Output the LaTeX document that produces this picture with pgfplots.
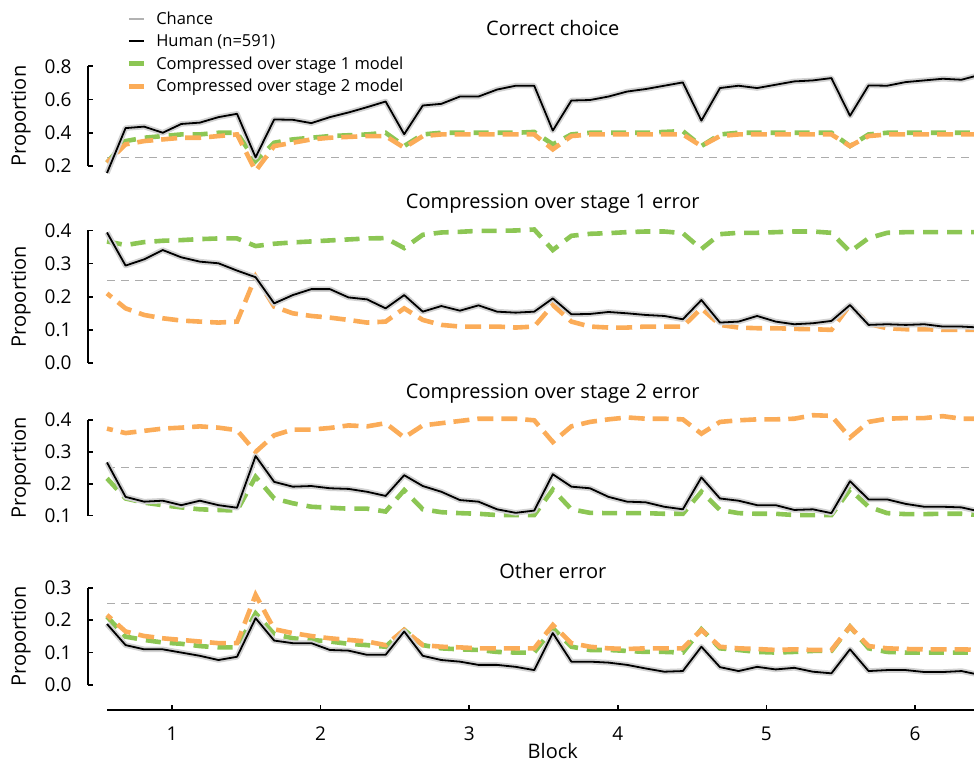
\documentclass[border=0pt]{standalone}
\usepackage{fontspec}
\setmainfont{Open Sans}
\usepackage{pgfplots}
\usepackage{pgfplotstable}
\pgfplotsset{compat=1.18}

\definecolor{grn}{RGB}{140,198,84}
\definecolor{org}{RGB}{251,172,88}

% columns: x, human, compressed-over-stage-1 model, compressed-over-stage-2 model
\pgfplotstableread{
x h s1 s2
0.5625 0.158 0.22 0.22
0.6875 0.428 0.35 0.33
0.8125 0.437 0.37 0.35
0.9375 0.400 0.38 0.36
1.0625 0.453 0.39 0.37
1.1875 0.461 0.39 0.37
1.3125 0.494 0.40 0.38
1.4375 0.514 0.40 0.39
1.5625 0.252 0.23 0.17
1.6875 0.480 0.34 0.32
1.8125 0.478 0.36 0.34
1.9375 0.458 0.37 0.36
2.0625 0.494 0.38 0.37
2.1875 0.522 0.385 0.375
2.3125 0.554 0.39 0.38
2.4375 0.588 0.40 0.38
2.5625 0.391 0.32 0.31
2.6875 0.564 0.39 0.38
2.8125 0.574 0.40 0.39
2.9375 0.618 0.40 0.39
3.0625 0.618 0.40 0.39
3.1875 0.660 0.40 0.39
3.3125 0.683 0.40 0.39
3.4375 0.683 0.405 0.39
3.5625 0.413 0.33 0.30
3.6875 0.594 0.39 0.38
3.8125 0.597 0.40 0.39
3.9375 0.618 0.40 0.39
4.0625 0.648 0.40 0.39
4.1875 0.663 0.40 0.39
4.3125 0.683 0.405 0.39
4.4375 0.703 0.41 0.39
4.5625 0.473 0.32 0.32
4.6875 0.669 0.39 0.38
4.8125 0.683 0.40 0.39
4.9375 0.669 0.40 0.39
5.0625 0.689 0.40 0.39
5.1875 0.709 0.40 0.39
5.3125 0.715 0.40 0.39
5.4375 0.729 0.40 0.39
5.5625 0.502 0.32 0.32
5.6875 0.685 0.39 0.38
5.8125 0.683 0.40 0.39
5.9375 0.705 0.40 0.39
6.0625 0.715 0.40 0.39
6.1875 0.725 0.40 0.39
6.3125 0.719 0.40 0.39
6.4375 0.749 0.40 0.39
}\correct

\pgfplotstableread{
x h s1 s2
0.5625 0.394 0.367 0.210
0.6875 0.294 0.356 0.165
0.8125 0.313 0.365 0.145
0.9375 0.341 0.369 0.135
1.0625 0.319 0.371 0.128
1.1875 0.306 0.374 0.125
1.3125 0.301 0.376 0.122
1.4375 0.279 0.376 0.125
1.5625 0.259 0.353 0.261
1.6875 0.180 0.360 0.170
1.8125 0.205 0.364 0.150
1.9375 0.223 0.367 0.142
2.0625 0.223 0.370 0.137
2.1875 0.198 0.373 0.130
2.3125 0.192 0.376 0.122
2.4375 0.165 0.377 0.125
2.5625 0.205 0.347 0.165
2.6875 0.155 0.387 0.130
2.8125 0.172 0.394 0.115
2.9375 0.158 0.396 0.110
3.0625 0.174 0.399 0.110
3.1875 0.155 0.399 0.110
3.3125 0.152 0.400 0.107
3.4375 0.155 0.403 0.110
3.5625 0.195 0.341 0.175
3.6875 0.147 0.384 0.125
3.8125 0.148 0.390 0.110
3.9375 0.154 0.392 0.107
4.0625 0.150 0.395 0.107
4.1875 0.145 0.397 0.110
4.3125 0.142 0.397 0.110
4.4375 0.132 0.392 0.110
4.5625 0.190 0.344 0.165
4.6875 0.122 0.389 0.115
4.8125 0.125 0.393 0.107
4.9375 0.142 0.393 0.105
5.0625 0.125 0.395 0.105
5.1875 0.117 0.397 0.103
5.3125 0.120 0.397 0.102
5.4375 0.127 0.393 0.100
5.5625 0.175 0.336 0.175
5.6875 0.115 0.377 0.118
5.8125 0.117 0.393 0.105
5.9375 0.115 0.395 0.102
6.0625 0.117 0.395 0.102
6.1875 0.110 0.395 0.100
6.3125 0.110 0.395 0.100
6.4375 0.107 0.395 0.100
}\stageone

\pgfplotstableread{
x h s1 s2
0.5625 0.267 0.217 0.373
0.6875 0.159 0.154 0.359
0.8125 0.144 0.141 0.366
0.9375 0.147 0.133 0.373
1.0625 0.133 0.126 0.376
1.1875 0.147 0.120 0.380
1.3125 0.133 0.118 0.376
1.4375 0.125 0.116 0.368
1.5625 0.287 0.222 0.300
1.6875 0.206 0.154 0.352
1.8125 0.191 0.139 0.370
1.9375 0.193 0.128 0.370
2.0625 0.186 0.125 0.375
2.1875 0.184 0.122 0.383
2.3125 0.175 0.122 0.380
2.4375 0.162 0.113 0.390
2.5625 0.227 0.180 0.345
2.6875 0.193 0.120 0.383
2.8125 0.175 0.111 0.390
2.9375 0.149 0.108 0.397
3.0625 0.144 0.106 0.404
3.1875 0.120 0.102 0.404
3.3125 0.109 0.102 0.404
3.4375 0.116 0.102 0.399
3.5625 0.230 0.182 0.331
3.6875 0.191 0.120 0.380
3.8125 0.186 0.109 0.394
3.9375 0.159 0.108 0.402
4.0625 0.144 0.108 0.408
4.1875 0.142 0.108 0.404
4.3125 0.128 0.106 0.404
4.4375 0.120 0.106 0.402
4.5625 0.220 0.175 0.357
4.6875 0.154 0.118 0.394
4.8125 0.147 0.108 0.399
4.9375 0.133 0.106 0.402
5.0625 0.133 0.106 0.402
5.1875 0.118 0.102 0.404
5.3125 0.120 0.102 0.415
5.4375 0.108 0.102 0.413
5.5625 0.208 0.182 0.345
5.6875 0.151 0.128 0.394
5.8125 0.151 0.108 0.404
5.9375 0.137 0.105 0.406
6.0625 0.128 0.105 0.406
6.1875 0.128 0.106 0.412
6.3125 0.126 0.106 0.404
6.4375 0.113 0.102 0.404
}\stagetwo

\pgfplotstableread{
x h s1 s2
0.5625 0.188 0.211 0.216
0.6875 0.123 0.149 0.165
0.8125 0.110 0.139 0.151
0.9375 0.110 0.131 0.144
1.0625 0.100 0.127 0.139
1.1875 0.090 0.120 0.134
1.3125 0.077 0.116 0.129
1.4375 0.087 0.116 0.129
1.5625 0.206 0.221 0.278
1.6875 0.137 0.157 0.172
1.8125 0.129 0.144 0.160
1.9375 0.129 0.139 0.151
2.0625 0.108 0.134 0.144
2.1875 0.106 0.127 0.139
2.3125 0.093 0.123 0.134
2.4375 0.093 0.118 0.123
2.5625 0.165 0.170 0.170
2.6875 0.090 0.123 0.123
2.8125 0.077 0.113 0.118
2.9375 0.072 0.110 0.116
3.0625 0.062 0.108 0.113
3.1875 0.062 0.102 0.113
3.3125 0.056 0.100 0.113
3.4375 0.046 0.100 0.113
3.5625 0.160 0.175 0.185
3.6875 0.072 0.118 0.129
3.8125 0.072 0.108 0.118
3.9375 0.069 0.108 0.113
4.0625 0.062 0.105 0.111
4.1875 0.051 0.102 0.113
4.3125 0.041 0.102 0.113
4.4375 0.043 0.100 0.113
4.5625 0.118 0.172 0.170
4.6875 0.055 0.113 0.118
4.8125 0.043 0.108 0.113
4.9375 0.056 0.102 0.111
5.0625 0.048 0.100 0.108
5.1875 0.053 0.102 0.110
5.3125 0.041 0.105 0.108
5.4375 0.036 0.105 0.108
5.5625 0.110 0.180 0.180
5.6875 0.043 0.113 0.120
5.8125 0.046 0.102 0.113
5.9375 0.046 0.100 0.111
6.0625 0.040 0.100 0.110
6.1875 0.040 0.100 0.110
6.3125 0.043 0.100 0.110
6.4375 0.031 0.100 0.108
}\other

\pgfplotsset{
  panel/.style={
    scale only axis, width=891.6pt,
    xmin=0.5625, xmax=6.5625,
    clip=false,
    axis y line*=left,
    axis y line shift=19pt,
    axis line style={line width=1.6pt, black},
    tick style={line width=1.6pt, black},
    major tick length=5pt,
    tick align=inside,
    yticklabel={\pgfmathprintnumber[fixed,fixed zerofill,precision=1,assume math mode=true]{\tick}},
    yticklabel style={font=\fontsize{19}{22}\selectfont, xshift=-13pt},
    ylabel={Proportion},
    ylabel style={font=\fontsize{20}{24}\selectfont, at={(axis description cs:-0.0965,0.5)}, anchor=center},
    title style={font=\fontsize{20}{24}\selectfont, at={(0.5,1)}, anchor=base},
  },
  noxaxis/.style={axis x line=none, xtick=\empty},
  chance/.style={gray!65, line width=0.9pt, dash pattern=on 8pt off 6pt, forget plot},
  mod1/.style={grn, line width=4.6pt, dash pattern=on 15pt off 9pt, forget plot},
  mod2/.style={org, line width=4.6pt, dash pattern=on 16pt off 8pt, dash phase=10pt, forget plot},
  shade/.style={gray!35, line width=5.5pt, line join=round, forget plot},
  human/.style={black, line width=1.8pt, line join=round, forget plot},
}

\begin{document}
\begin{tikzpicture}
\useasboundingbox (0,0) rectangle (974pt,763pt);
\clip (0,0) rectangle (974pt,763pt);

% Correct choice
\begin{axis}[panel, noxaxis, at={(107pt,597pt)}, anchor=south west, height=99.7pt,
  ymin=0.2, ymax=0.8, ytick={0.2,0.4,0.6,0.8},
  title={Correct choice}, title style={yshift=25pt},
  legend style={at={(0.018,1.585)}, anchor=north west, draw=none, fill=none,
    font=\fontsize{16.5}{20}\selectfont, row sep=4.5pt, nodes={inner sep=2pt},
    /tikz/every odd column/.append style={column sep=8pt}},
  legend cell align=left,
  legend image code/.code={\draw[#1] (0pt,0pt) -- (15pt,0pt);},
]
\addlegendimage{gray!60, line width=2pt}
\addlegendentry{Chance}
\addlegendimage{black, line width=2pt}
\addlegendentry{Human (n=591)}
\addlegendimage{grn, line width=5pt}
\addlegendentry{Compressed over stage 1 model}
\addlegendimage{org, line width=5pt}
\addlegendentry{Compressed over stage 2 model}
\addplot[chance] coordinates {(0.5625,0.25) (6.5625,0.25)};
\addplot[mod1] table[x=x,y=s1]{\correct};
\addplot[mod2] table[x=x,y=s2]{\correct};
\addplot[shade] table[x=x,y=h]{\correct};
\addplot[human] table[x=x,y=h]{\correct};
\end{axis}

% Compression over stage 1 error
\begin{axis}[panel, noxaxis, at={(107pt,400pt)}, anchor=south west, height=132.5pt,
  ymin=0, ymax=0.4, ytick={0,0.1,0.2,0.3,0.4},
  title={Compression over stage 1 error}, title style={yshift=16pt},
]
\addplot[chance] coordinates {(0.5625,0.25) (6.5625,0.25)};
\addplot[mod1] table[x=x,y=s1]{\stageone};
\addplot[mod2] table[x=x,y=s2]{\stageone};
\addplot[shade] table[x=x,y=h]{\stageone};
\addplot[human] table[x=x,y=h]{\stageone};
\end{axis}

% Compression over stage 2 error
\begin{axis}[panel, noxaxis, at={(107pt,247.3pt)}, anchor=south west, height=95.7pt,
  ymin=0.1, ymax=0.4, ytick={0.1,0.2,0.3,0.4},
  title={Compression over stage 2 error}, title style={yshift=15.5pt},
]
\addplot[chance] coordinates {(0.5625,0.25) (6.5625,0.25)};
\addplot[mod1] table[x=x,y=s1]{\stagetwo};
\addplot[mod2] table[x=x,y=s2]{\stagetwo};
\addplot[shade] table[x=x,y=h]{\stagetwo};
\addplot[human] table[x=x,y=h]{\stagetwo};
\end{axis}

% Other error
\begin{axis}[panel, at={(107pt,78pt)}, anchor=south west, height=97.3pt,
  ymin=0, ymax=0.3, ytick={0,0.1,0.2,0.3},
  title={Other error}, title style={yshift=3pt},
  axis x line*=bottom, axis x line shift=25pt,
  xtick={1,2,3,4,5,6},
  xticklabel={\pgfmathprintnumber[assume math mode=true]{\tick}},
  xticklabel style={font=\fontsize{19}{22}\selectfont, yshift=-13pt},
  xlabel={Block},
  xlabel style={font=\fontsize{20}{24}\selectfont, at={(axis description cs:0.5,0)}, anchor=center, yshift=-66pt},
]
\addplot[chance] coordinates {(0.5625,0.25) (6.5625,0.25)};
\addplot[mod1] table[x=x,y=s1]{\other};
\addplot[mod2] table[x=x,y=s2]{\other};
\addplot[shade] table[x=x,y=h]{\other};
\addplot[human] table[x=x,y=h]{\other};
\end{axis}
\end{tikzpicture}
\end{document}
